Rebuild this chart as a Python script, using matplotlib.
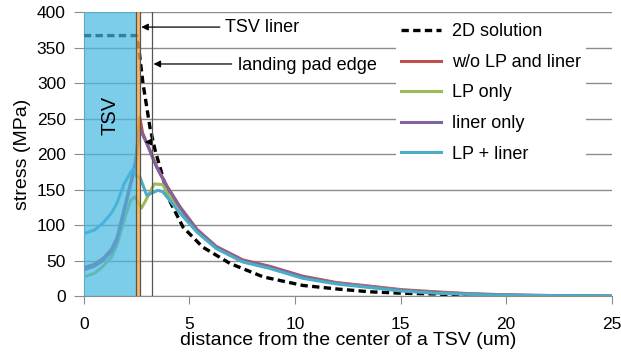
import numpy as np
import matplotlib.pyplot as plt

plt.rcParams['font.family'] = ['Liberation Sans', 'DejaVu Sans']

# 2D analytic solution
x_2d = [0, 2.5, 2.62, 2.8, 3.13, 3.37, 3.69, 4.05, 4.7, 5.63, 6.92, 8.5,
        10.37, 11.98, 13.55, 15.06, 16.68, 18.2, 19.8, 20.2]
y_2d = [367, 367, 345, 300, 238, 206, 173, 135, 97, 69, 46, 27,
        15, 10, 6, 4, 3, 1, 0, 0]

# w/o LP and liner
x_red = [0, 0.5, 0.91, 1.31, 1.57, 1.92, 2.27, 2.46, 2.65, 2.78, 2.98, 3.44, 3.94,
         4.55, 5.36, 6.27, 7.53, 8.8, 10.37, 11.98, 13.55, 15.06, 16.68, 18.2, 19.8, 21.2, 23, 25]
y_red = [40, 45, 53, 66, 82, 124, 166, 192, 252, 230, 216, 183, 155,
         126, 94, 70, 51, 42, 28, 19, 14, 9, 6, 3.5, 2, 1, 0.5, 0]

# LP only
x_green = [0, 0.5, 0.91, 1.31, 1.57, 1.92, 2.22, 2.42, 2.73, 2.88, 3.34, 3.74, 4.05,
           4.55, 5.36, 6.27, 7.53, 8.8, 10.37, 11.98, 13.55, 15.06, 16.68, 18.2, 19.8, 21.2, 23, 25]
y_green = [27, 32, 42, 55, 72, 108, 135, 140, 124, 132, 158, 157, 140,
           124, 92, 68, 49, 40, 26, 18, 13, 8, 5, 3, 1.5, 1, 0.5, 0]

# liner only
x_purple = [0, 0.5, 0.91, 1.31, 1.57, 1.92, 2.27, 2.46, 2.65, 2.98, 3.44, 3.94,
            4.55, 5.36, 6.27, 7.53, 8.8, 10.37, 11.98, 13.55, 15.06, 16.68, 18.2, 19.8, 21.2, 23, 25]
y_purple = [37, 42, 50, 63, 79, 121, 163, 190, 236, 215, 182, 154,
            125, 93, 69, 50, 41, 27, 18, 13, 8, 5, 3, 1.5, 1, 0.5, 0]

# LP + liner
x_cyan = [0, 0.5, 0.91, 1.31, 1.57, 1.92, 2.27, 2.37, 2.5, 2.65, 2.98, 3.51, 3.74,
          4.55, 5.36, 6.27, 7.53, 8.8, 10.37, 11.98, 13.55, 15.06, 16.68, 18.2, 19.8, 21.2, 23, 25]
y_cyan = [88, 93, 103, 117, 131, 159, 177, 178, 168, 168, 142, 149, 147,
          117, 90, 67, 48, 39, 25, 17, 12, 7, 4, 2.5, 1.2, 0.8, 0.4, 0]

tsv_r = 2.46
liner_r = 2.65
pad_edge = 3.24

fig = plt.figure(figsize=(6.21, 3.58), dpi=100)
ax = fig.add_axes([0.135, 0.173, 0.850, 0.793])

gcol = '#8c8c8c'
ax.set_xlim(0, 25)
ax.set_ylim(0, 400)
ax.set_xticks([0, 5, 10, 15, 20, 25])
ax.set_yticks(range(0, 401, 50))
ax.yaxis.grid(True, color=gcol, lw=1)
ax.set_axisbelow(True)
for s in ['top', 'right']:
    ax.spines[s].set_visible(False)
for s in ['left', 'bottom']:
    ax.spines[s].set_color(gcol)
ax.tick_params(axis='both', colors=gcol, labelcolor='black', labelsize=12.5)
ax.tick_params(axis='x', length=6, pad=9)
ax.tick_params(axis='y', length=7, pad=6)

ax.plot(x_2d, y_2d, color='black', lw=2.4, ls=(0, (2.2, 1.3)), label='2D solution', zorder=3)
ax.plot(x_red, y_red, color='#C0504D', lw=2.2, label='w/o LP and liner', zorder=3)
ax.plot(x_green, y_green, color='#9BBB59', lw=2.2, label='LP only', zorder=3)
ax.plot(x_purple, y_purple, color='#8064A2', lw=2.2, label='liner only', zorder=3)
ax.plot(x_cyan, y_cyan, color='#4BACC6', lw=2.2, label='LP + liner', zorder=3)

# TSV and liner regions overlaid semi-transparently
ax.axvspan(0, tsv_r, color='#45B8E2', alpha=0.7, lw=0, zorder=4)
ax.axvspan(tsv_r, liner_r, color='#F7A833', alpha=0.8, lw=0, zorder=4)
for xv in [tsv_r, liner_r, pad_edge]:
    ax.axvline(xv, color='#555555', lw=0.9, zorder=5)

ax.text(1.25, 255, 'TSV', rotation=90, fontsize=14.5, ha='center', va='center', zorder=6)

arrow = dict(arrowstyle='-|>', color='black', lw=0.9, mutation_scale=10, shrinkA=0, shrinkB=0)
ax.annotate('', xy=(2.72, 379), xytext=(6.44, 379), arrowprops=arrow, zorder=6)
ax.text(6.68, 379, 'TSV liner', fontsize=13, ha='left', va='center')
ax.annotate('', xy=(3.3, 327), xytext=(7.0, 327), arrowprops=arrow, zorder=6)
ax.text(7.29, 325, 'landing pad edge', fontsize=13, ha='left', va='center')
ax.annotate('', xy=(2.88, 217), xytext=(3.15, 217), arrowprops=arrow, zorder=6)

ax.set_xlabel('distance from the center of a TSV (um)', fontsize=14, labelpad=0)
ax.set_ylabel('stress (MPa)', fontsize=14, labelpad=4)

leg = fig.legend(loc='upper left', bbox_to_anchor=(396 / 621, 1 - 18 / 358),
                 fontsize=13, frameon=True, facecolor='white', edgecolor='none',
                 framealpha=1, fancybox=False, borderpad=0.3, handlelength=2.2,
                 handletextpad=0.6, labelspacing=0.75, borderaxespad=0)

fig.savefig('out.png', dpi=100)
